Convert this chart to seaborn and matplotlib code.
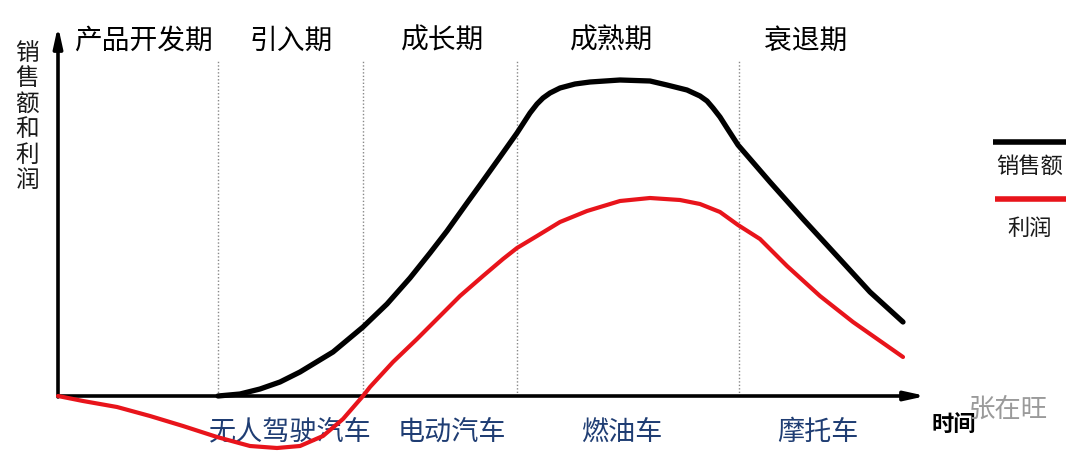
import matplotlib
matplotlib.use("Agg")
import matplotlib.pyplot as plt
import seaborn as sns
import pandas as pd

# ---- data (time units, value units; origin = axis crossing) ----
sales_t = [160, 182, 202, 222, 242, 275, 305, 329, 352, 372, 389, 409, 422, 442, 459,
           472, 479, 485, 492, 502, 517, 532, 562, 592, 609, 629, 642, 649, 655, 662,
           669, 680, 712, 745, 779, 812, 845]
sales_v = [0, 2, 7, 14, 24, 44, 69, 92, 118, 143, 165, 193, 211, 239, 263,
           283, 292, 298, 303, 308, 312, 314, 316, 315, 311, 306, 300, 295, 288, 279,
           268, 251, 214, 177, 140, 104, 74]

profit_t = [0, 25, 59, 92, 125, 159, 192, 219, 242, 265, 285, 305, 312, 335, 359, 382,
            402, 425, 445, 459, 479, 502, 529, 562, 592, 622, 642, 662, 680, 702, 729,
            762, 795, 845]
profit_v = [0, -5, -11, -20, -30, -41, -50, -52, -50, -40, -23, 0, 9, 34, 57, 80,
            100, 120, 137, 148, 160, 174, 185, 195, 198, 196, 192, 184, 171, 157, 130,
            100, 74, 39]

phase_bounds = [160, 305, 459, 681]
phases = ["产品开发期", "引入期", "成长期", "成熟期", "衰退期"]
phase_x = [85, 233, 385, 554, 748]
products = ["无人驾驶汽车", "电动汽车", "燃油车", "摩托车"]
product_x = [232, 394, 564, 760]
y_label = "销售额和利润"
x_label = "时间"
legend_labels = ["销售额", "利润"]
watermark = "张在旺"

sns.set_theme(style="white")
plt.rcParams["font.family"] = ["Noto Sans CJK SC", "DejaVu Sans"]

fig = plt.figure(figsize=(10.8, 4.6), dpi=100)
ax = fig.add_axes([0, 0, 1, 1])

# phase separators
for b in phase_bounds:
    ax.plot([b, b], [0, 335], color="#888888", lw=1.0, ls=(0, (1, 1.5)), zorder=1)

# axes with arrows
ax.annotate("", xy=(868, 0), xytext=(0, 0),
            arrowprops=dict(arrowstyle="-|>,head_length=1.0,head_width=0.22",
                            lw=2.6, color="black", shrinkA=0, shrinkB=0), zorder=3)
ax.annotate("", xy=(0, 370), xytext=(0, -1),
            arrowprops=dict(arrowstyle="-|>,head_length=1.0,head_width=0.22",
                            lw=2.6, color="black", shrinkA=0, shrinkB=0), zorder=3)

# curves
df_s = pd.DataFrame({"t": sales_t, "v": sales_v})
df_p = pd.DataFrame({"t": profit_t, "v": profit_v})
sns.lineplot(data=df_s, x="t", y="v", sort=False, color="black", lw=3.8,
             ax=ax, zorder=4, solid_capstyle="round", solid_joinstyle="round")
sns.lineplot(data=df_p, x="t", y="v", sort=False, color="#e8141b", lw=3.0,
             ax=ax, zorder=5, solid_capstyle="round", solid_joinstyle="round")
ax.set_xlim(-58, 1022)
ax.set_ylim(-63, 397)
ax.axis("off")

# phase titles
for name, x in zip(phases, phase_x):
    ax.text(x, 356, name, ha="center", va="center", fontsize=20, color="black")

# product labels
for name, x in zip(products, product_x):
    ax.text(x, -35, name, ha="center", va="center", fontsize=19.5, color="#1f3d73", zorder=2)

# y label (vertical stacked)
ax.text(-31, 280, "\n".join(y_label), ha="center", va="center", fontsize=17,
        linespacing=1.13, color="#1a1a1a", fontweight="medium")

# x label and watermark
ax.text(896, -27, x_label, ha="center", va="center", fontsize=16, color="black",
        fontweight="bold")
ax.text(950, -12, watermark, ha="center", va="center", fontsize=19, color="#9a9a9a",
        zorder=6)

# legend keys
ax.plot([935, 1008], [254, 254], color="black", lw=4.0, solid_capstyle="butt")
ax.text(972, 231, legend_labels[0], ha="center", va="center", fontsize=16,
        color="#1a1a1a", fontweight="medium")
ax.plot([937, 1008], [197, 197], color="#e8141b", lw=4.0, solid_capstyle="butt")
ax.text(972, 169, legend_labels[1], ha="center", va="center", fontsize=16,
        color="#1a1a1a", fontweight="medium")

fig.savefig("out.png", dpi=100)
